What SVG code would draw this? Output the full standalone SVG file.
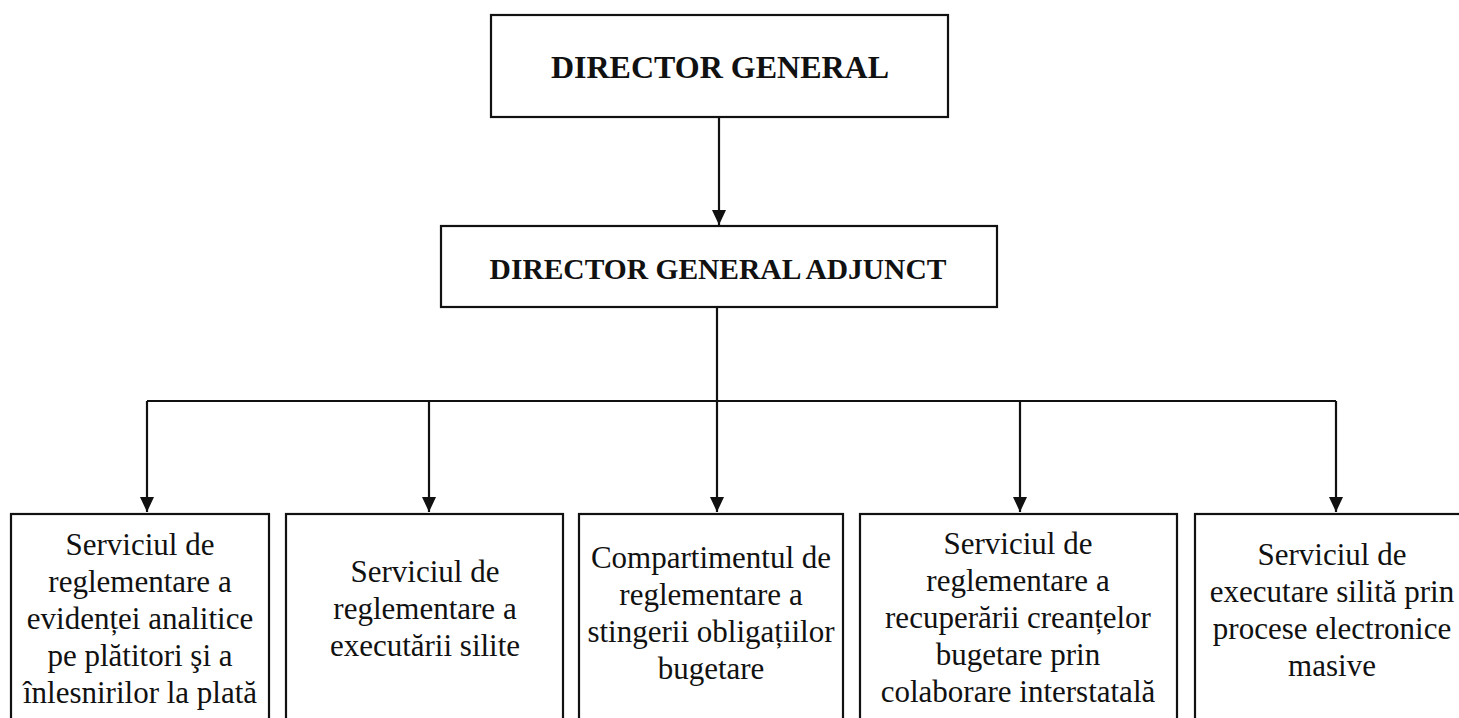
<svg xmlns="http://www.w3.org/2000/svg" width="1459" height="718" viewBox="0 0 1459 718">
<style>
.box{fill:#fff;stroke:#111;stroke-width:2.2}
.t{font-family:"Liberation Serif","Times New Roman",serif;fill:#111;text-anchor:middle}
.h1{font-size:32px;font-weight:bold}
.h2{font-size:29.5px;font-weight:bold}
.b{font-size:31px}
.c{fill:none;stroke:#111;stroke-width:2.2}
</style>
<defs>
<marker id="arr" markerUnits="userSpaceOnUse" markerWidth="16" markerHeight="16" refX="15" refY="7" orient="auto">
<path d="M0,0 L15,7 L0,14 z" fill="#111"/>
</marker>
</defs>
<rect width="1459" height="718" fill="#fff"/>
<g id="connectors">
<path class="c" d="M719,117 V225" marker-end="url(#arr)"/>
<path class="c" d="M717,307 V512" marker-end="url(#arr)"/>
<path class="c" d="M147,401 H1336"/>
<path class="c" d="M147,401 V512" marker-end="url(#arr)"/>
<path class="c" d="M429,401 V512" marker-end="url(#arr)"/>
<path class="c" d="M1020,401 V512" marker-end="url(#arr)"/>
<path class="c" d="M1336,401 V512" marker-end="url(#arr)"/>
</g>
<g id="director-general">
<rect class="box" x="491" y="15" width="457" height="102"/>
<text class="t h1" x="720" y="78">DIRECTOR GENERAL</text>
</g>
<g id="director-general-adjunct">
<rect class="box" x="441" y="226" width="556" height="81"/>
<text class="t h2" x="718" y="279">DIRECTOR GENERAL ADJUNCT</text>
</g>
<g id="serviciul-evidenta">
<rect class="box" x="11" y="514" width="258" height="220"/>
<text class="t b" x="140" y="555">Serviciul de</text>
<text class="t b" x="140" y="592">reglementare a</text>
<text class="t b" x="140" y="629">evidenței analitice</text>
<text class="t b" x="140" y="666">pe plătitori şi a</text>
<text class="t b" x="140" y="703">înlesnirilor la plată</text>
</g>
<g id="serviciul-executare">
<rect class="box" x="286" y="514" width="277" height="220"/>
<text class="t b" x="425" y="582">Serviciul de</text>
<text class="t b" x="425" y="619">reglementare a</text>
<text class="t b" x="425" y="656">executării silite</text>
</g>
<g id="compartimentul-stingere">
<rect class="box" x="579" y="514" width="264" height="220"/>
<text class="t b" x="711" y="568">Compartimentul de</text>
<text class="t b" x="711" y="605">reglementare a</text>
<text class="t b" x="711" y="642">stingerii obligațiilor</text>
<text class="t b" x="711" y="679">bugetare</text>
</g>
<g id="serviciul-recuperare">
<rect class="box" x="860" y="514" width="317" height="220"/>
<text class="t b" x="1018" y="554">Serviciul de</text>
<text class="t b" x="1018" y="591">reglementare a</text>
<text class="t b" x="1018" y="628">recuperării creanțelor</text>
<text class="t b" x="1018" y="665">bugetare prin</text>
<text class="t b" x="1018" y="702">colaborare interstatală</text>
</g>
<g id="serviciul-procese-electronice">
<rect class="box" x="1195" y="514" width="280" height="220"/>
<text class="t b" x="1332" y="565">Serviciul de</text>
<text class="t b" x="1332" y="602">executare silită prin</text>
<text class="t b" x="1332" y="639">procese electronice</text>
<text class="t b" x="1332" y="676">masive</text>
</g>
</svg>
